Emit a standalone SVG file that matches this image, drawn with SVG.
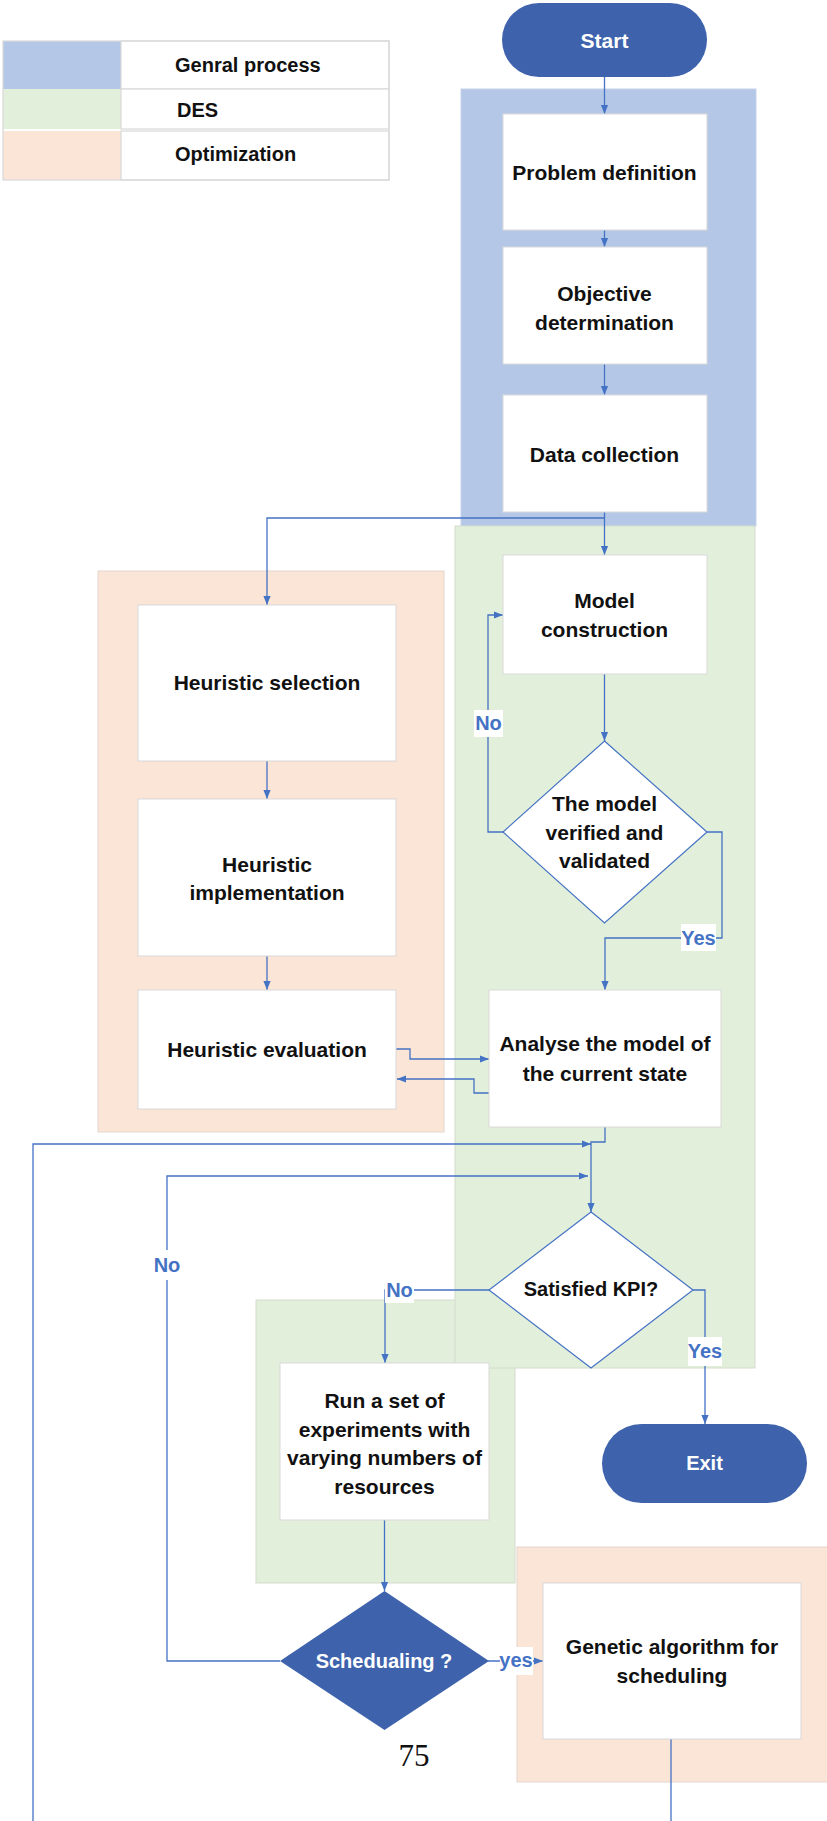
<svg xmlns="http://www.w3.org/2000/svg" width="827" height="1821" viewBox="0 0 827 1821">
  <style>
    .t { font-family: "Liberation Sans", Arial, sans-serif; font-weight: bold; font-size: 21px; fill: #111; text-anchor: middle; dominant-baseline: central; }
    .tw { font-family: "Liberation Sans", Arial, sans-serif; font-weight: bold; font-size: 21px; fill: #ffffff; text-anchor: middle; dominant-baseline: central; }
    .lg { font-family: "Liberation Sans", Arial, sans-serif; font-weight: bold; font-size: 20px; fill: #111; dominant-baseline: central; }
    .lbl { font-family: "Liberation Sans", Arial, sans-serif; font-weight: bold; font-size: 20px; fill: #4472c4; text-anchor: middle; dominant-baseline: central; }
    .box { fill: #ffffff; stroke: #d9d9d9; stroke-width: 1; }
    .dark { fill: #3e63ac; }
    .dia { fill: #ffffff; stroke: #4472c4; stroke-width: 1.2; }
    .pb { fill: #b4c7e7; stroke: #c5d2ea; stroke-width: 1; }
    .pg { fill: #e2efda; stroke: #d3dccd; stroke-width: 1; }
    .po { fill: #fbe5d6; stroke: #e3d6cd; stroke-width: 1; }
    .cn { fill: none; stroke: #4472c4; stroke-width: 1.3; }
    .lbg { fill: #ffffff; }
    .cell { fill: #ffffff; stroke: #d9d9d9; stroke-width: 1.2; }
  </style>
  <defs>
    <marker id="arr" viewBox="0 0 10 10" refX="10" refY="5" markerWidth="9" markerHeight="9" markerUnits="userSpaceOnUse" orient="auto">
      <path d="M0,1 L10,5 L0,9 z" fill="#4472c4"/>
    </marker>
  </defs>

  <rect width="827" height="1821" fill="#ffffff"/>

  <!-- legend -->
  <g id="legend">
    <rect x="3" y="41" width="118" height="48" fill="#b4c7e7"/>
    <rect x="3" y="89" width="118" height="40" fill="#e2efda"/>
    <rect x="3" y="131" width="118" height="49" fill="#fbe5d6"/>
    <rect class="cell" x="121" y="41" width="268" height="48"/>
    <rect class="cell" x="121" y="89" width="268" height="40"/>
    <rect class="cell" x="121" y="131" width="268" height="49"/>
    <rect x="3" y="41" width="386" height="139" fill="none" stroke="#d9d9d9" stroke-width="1.2"/>
    <text class="lg" x="175" y="65">Genral process</text>
    <text class="lg" x="177" y="110">DES</text>
    <text class="lg" x="175" y="154">Optimization</text>
  </g>

  <!-- swimlane panels -->
  <g id="panels">
    <rect class="pb" x="461" y="89" width="295" height="437"/>
    <rect class="po" x="98" y="571" width="346" height="561"/>
    <rect class="pg" x="256" y="1300" width="259" height="283"/>
    <rect class="pg" x="455" y="526" width="300" height="842"/>
    <rect class="po" x="517" y="1547" width="320" height="235"/>
  </g>

  <!-- connectors -->
  <g id="connectors">
    <path class="cn" d="M604.5,77 V114" marker-end="url(#arr)"/>
    <path class="cn" d="M604.5,230 V247" marker-end="url(#arr)"/>
    <path class="cn" d="M604.5,364 V395" marker-end="url(#arr)"/>
    <path class="cn" d="M604.5,512 V555" marker-end="url(#arr)"/>
    <path class="cn" d="M604.5,518 H267 V605" marker-end="url(#arr)"/>
    <path class="cn" d="M267,761 V799" marker-end="url(#arr)"/>
    <path class="cn" d="M267,956 V990" marker-end="url(#arr)"/>
    <path class="cn" d="M604.5,674 V741" marker-end="url(#arr)"/>
    <path class="cn" d="M503,832 H488 V615 H503" marker-end="url(#arr)"/>
    <path class="cn" d="M707,832 H722 V938 H605 V990" marker-end="url(#arr)"/>
    <path class="cn" d="M396,1049 H410 V1059 H489" marker-end="url(#arr)"/>
    <path class="cn" d="M489,1093 H474 V1079 H397" marker-end="url(#arr)"/>
    <path class="cn" d="M605,1127 V1142 H591 V1212" marker-end="url(#arr)"/>
    <path class="cn" d="M33,1821 V1144 H591" marker-end="url(#arr)"/>
    <path class="cn" d="M280,1661 H167 V1176 H588" marker-end="url(#arr)"/>
    <path class="cn" d="M489,1290 H385 V1363" marker-end="url(#arr)"/>
    <path class="cn" d="M693,1290 H705 V1424" marker-end="url(#arr)"/>
    <path class="cn" d="M384.5,1520 V1591" marker-end="url(#arr)"/>
    <path class="cn" d="M488,1661 H543" marker-end="url(#arr)"/>
    <path class="cn" d="M671,1739 V1821"/>

    <!-- branch labels -->
    <rect class="lbg" x="474" y="710" width="29" height="27"/>
    <text class="lbl" x="488.5" y="723">No</text>
    <rect class="lbg" x="681" y="924" width="35" height="27"/>
    <text class="lbl" x="698.5" y="938">Yes</text>
    <rect class="lbg" x="153" y="1250" width="28" height="30"/>
    <text class="lbl" x="167" y="1265">No</text>
    <rect class="lbg" x="385" y="1279" width="29" height="24"/>
    <text class="lbl" x="399.5" y="1290">No</text>
    <rect class="lbg" x="688" y="1337" width="34" height="29"/>
    <text class="lbl" x="705" y="1351">Yes</text>
    <rect class="lbg" x="500" y="1647" width="33" height="28"/>
    <text class="lbl" x="516" y="1660">yes</text>
  </g>

  <!-- nodes -->
  <g id="start">
    <rect class="dark" x="502" y="3" width="205" height="74" rx="37"/>
    <text class="tw" x="604.5" y="40">Start</text>
  </g>
  <g id="problem-definition">
    <rect class="box" x="503" y="114" width="204" height="116"/>
    <text class="t" x="604.5" y="172">Problem definition</text>
  </g>
  <g id="objective-determination">
    <rect class="box" x="503" y="247" width="204" height="117"/>
    <text class="t" x="604.5" y="293">Objective</text>
    <text class="t" x="604.5" y="322">determination</text>
  </g>
  <g id="data-collection">
    <rect class="box" x="503" y="395" width="204" height="117"/>
    <text class="t" x="604.5" y="454">Data collection</text>
  </g>
  <g id="model-construction">
    <rect class="box" x="503" y="555" width="204" height="119"/>
    <text class="t" x="604.5" y="600">Model</text>
    <text class="t" x="604.5" y="629">construction</text>
  </g>
  <g id="model-verified">
    <polygon class="dia" points="604.5,741 707,832 604.5,923 503,832"/>
    <text class="t" x="604.5" y="803">The model</text>
    <text class="t" x="604.5" y="832">verified and</text>
    <text class="t" x="604.5" y="860">validated</text>
  </g>
  <g id="heuristic-selection">
    <rect class="box" x="138" y="605" width="258" height="156"/>
    <text class="t" x="267" y="682">Heuristic selection</text>
  </g>
  <g id="heuristic-implementation">
    <rect class="box" x="138" y="799" width="258" height="157"/>
    <text class="t" x="267" y="864">Heuristic</text>
    <text class="t" x="267" y="892">implementation</text>
  </g>
  <g id="heuristic-evaluation">
    <rect class="box" x="138" y="990" width="258" height="119"/>
    <text class="t" x="267" y="1049">Heuristic evaluation</text>
  </g>
  <g id="analyse-current-state">
    <rect class="box" x="489" y="990" width="232" height="137"/>
    <text class="t" x="605" y="1043">Analyse the model of</text>
    <text class="t" x="605" y="1073">the current state</text>
  </g>
  <g id="satisfied-kpi">
    <polygon class="dia" points="591,1212 693,1290 591,1368 489,1290"/>
    <text class="t" x="591" y="1289" style="font-size:20px">Satisfied KPI?</text>
  </g>
  <g id="run-experiments">
    <rect class="box" x="280" y="1363" width="209" height="157"/>
    <text class="t" x="384.5" y="1400">Run a set of</text>
    <text class="t" x="384.5" y="1429">experiments with</text>
    <text class="t" x="384.5" y="1457">varying numbers of</text>
    <text class="t" x="384.5" y="1486">resources</text>
  </g>
  <g id="exit">
    <rect class="dark" x="602" y="1424" width="205" height="79" rx="39.5"/>
    <text class="tw" x="704.5" y="1463" style="font-size:20px">Exit</text>
  </g>
  <g id="scheduling">
    <polygon class="dark" points="384.5,1591 489,1661 384.5,1730 280,1661"/>
    <text class="tw" x="384" y="1661" style="font-size:20px">Schedualing ?</text>
  </g>
  <g id="genetic-algorithm">
    <rect class="box" x="543" y="1583" width="258" height="156"/>
    <text class="t" x="672" y="1646">Genetic algorithm for</text>
    <text class="t" x="672" y="1675">scheduling</text>
  </g>

  <!-- page number -->
  <text x="414" y="1766" font-family="'Liberation Serif', 'Times New Roman', serif" font-size="31" fill="#111" text-anchor="middle">75</text>
</svg>
